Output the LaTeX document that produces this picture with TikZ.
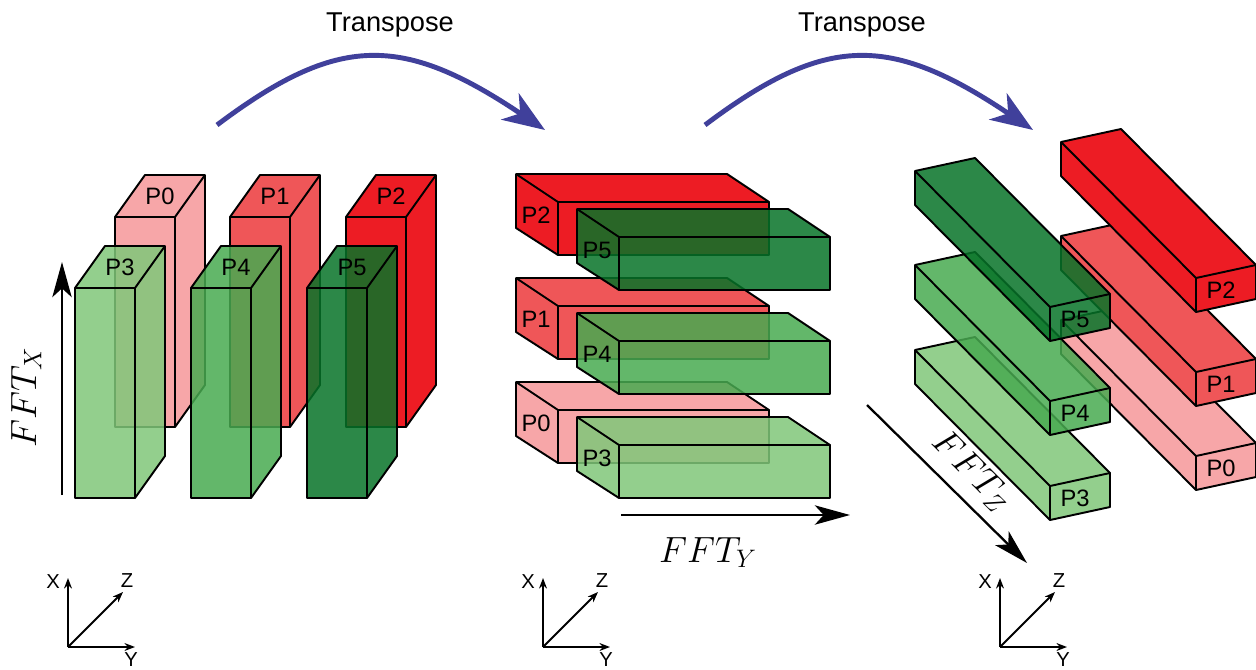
\documentclass[tikz,border=0pt]{standalone}
\usepackage{fontspec}
\setmainfont{Liberation Sans}
\usetikzlibrary{arrows.meta}

\definecolor{pinkP}{RGB}{247,166,168}
\definecolor{salmonP}{RGB}{239,86,88}
\definecolor{redP}{RGB}{237,28,36}
\definecolor{lightG}{RGB}{128,199,121}
\definecolor{midG}{RGB}{72,170,80}
\definecolor{darkG}{RGB}{7,115,40}
\definecolor{tblue}{RGB}{64,64,155}

\newcommand{\colbox}[5][]{%
	\begin{scope}[shift={(#2,#3)}]
		\filldraw[box,fill=#4,#1] (0,210) -- (0,0) -- (30,-42) -- (90,-42) -- (90,168) -- (60,210) -- cycle;
		\draw[box] (0,0) -- (60,0) -- (90,-42) (60,0) -- (60,210);
		\node[plabel] (c#5) at (45,-21) {#5};
	\end{scope}}
\newcommand{\rowbox}[5][]{%
	\begin{scope}[shift={(#2,#3)}]
		\filldraw[box,fill=#4,#1] (0,0) -- (211,0) -- (253,28) -- (253,81) -- (42,81) -- (0,54) -- cycle;
		\draw[box] (0,0) -- (42,28) -- (253,28) (42,28) -- (42,81);
		\node[plabel] (r#5) at (20,41) {#5};
	\end{scope}}
\newcommand{\barbox}[5][]{%
	\begin{scope}[shift={(#2,#3)}]
		\filldraw[box,fill=#4,#1] (0,34) -- (60,21) -- (60,-13) -- (-75,-149) -- (-135,-136) -- (-135,-102) -- cycle;
		\draw[box] (0,34) -- (0,0) -- (60,-13) (0,0) -- (-135,-136);
		\node[plabel] (b#5) at (25,12) {#5};
	\end{scope}}

\begin{document}
\begin{tikzpicture}[
		x=0.02cm, y=-0.02cm,
		box/.style={draw=black,line width=1.1pt,line join=round},
		glass/.style={fill opacity=0.85},
		plabel/.style={inner sep=0pt,font=\fontsize{13.5}{15}\selectfont},
		tlabel/.style={inner sep=0pt,font=\fontsize{15.5}{18}\selectfont},
		fftlabel/.style={inner sep=0pt,font=\fontsize{21}{25}\selectfont},
		axlabel/.style={inner sep=0pt,font=\fontsize{11.5}{13}\selectfont},
		transp/.style={draw=tblue,line width=2.8pt,-{Stealth[length=24pt,width=18pt,inset=7pt]}},
		fftarrow/.style={line width=1.3pt,-{Stealth[length=20pt,width=11pt,inset=5pt]}},
		axis/.style={line width=1.1pt,-{Stealth[length=6pt,width=4.5pt]}}
		]
		\useasboundingbox (0,0) rectangle (1256,669);
		
		\colbox{115}{217}{pinkP}{P0}
		\colbox{230}{217}{salmonP}{P1}
		\colbox{346}{217}{redP}{P2}
		\colbox[glass]{75}{288}{lightG}{P3}
		\colbox[glass]{191}{288}{midG}{P4}
		\colbox[glass]{307}{288}{darkG}{P5}
		
		\rowbox{516}{174}{redP}{P2}
		\rowbox{516}{278}{salmonP}{P1}
		\rowbox{516}{382}{pinkP}{P0}
		\rowbox[glass]{577}{209}{darkG}{P5}
		\rowbox[glass]{577}{313}{midG}{P4}
		\rowbox[glass]{577}{417}{lightG}{P3}
		
		\barbox{1196}{456}{pinkP}{P0}
		\barbox{1196}{372}{salmonP}{P1}
		\barbox{1196}{278}{redP}{P2}
		\barbox[glass]{1050}{486}{lightG}{P3}
		\barbox[glass]{1050}{401}{midG}{P4}
		\barbox[glass]{1050}{307}{darkG}{P5}
		
		\coordinate (t1s) at (217,125);
		\coordinate (t1e) at (545,130);
		\coordinate (t2s) at (705,125);
		\coordinate (t2e) at (1033,130);
		\draw[transp] (t1s) .. controls (338,34) and (402,34) .. (t1e);
		\draw[transp] (t2s) .. controls (826,34) and (890,34) .. (t2e);
		\node[tlabel,anchor=base] (tr1) at (390,32) {Transpose};
		\node[tlabel,anchor=base] (tr2) at (862,32) {Transpose};
		
		\coordinate (fxs) at (62,495);
		\coordinate (fxe) at (62,262);
		\coordinate (fys) at (621,515);
		\coordinate (fye) at (850,515);
		\coordinate (fzs) at (867,405);
		\coordinate (fze) at (1027,563);
		\draw[fftarrow] (fxs) -- (fxe);
		\draw[fftarrow] (fys) -- (fye);
		\draw[fftarrow] (fzs) -- (fze);
		\node[fftlabel,rotate=90,anchor=base] (fx) at (36,397) {$FFT_X$};
		\node[fftlabel,anchor=base] (fy) at (708,562) {$FFT_Y$};
		\node[fftlabel,rotate=-45] (fz) at (972,471) {$FFT_Z$};
		
		\foreach \ox/\nm in {68/a,543/b,1000/c}{
			\coordinate (o\nm) at (\ox,647);
			\coordinate (ox\nm) at (\ox,578);
			\coordinate (oy\nm) at (\ox+67,647);
			\coordinate (oz\nm) at (\ox+55,592);
			\draw[axis] (o\nm) -- (ox\nm);
			\draw[axis] (o\nm) -- (oy\nm);
			\draw[axis] (o\nm) -- (oz\nm);
			\node[axlabel] (lx\nm) at (\ox-15,582) {X};
			\node[axlabel] (lz\nm) at (\ox+59,581) {Z};
			\node[axlabel] (ly\nm) at (\ox+63,660) {Y};
		}
\end{tikzpicture}
\end{document}
